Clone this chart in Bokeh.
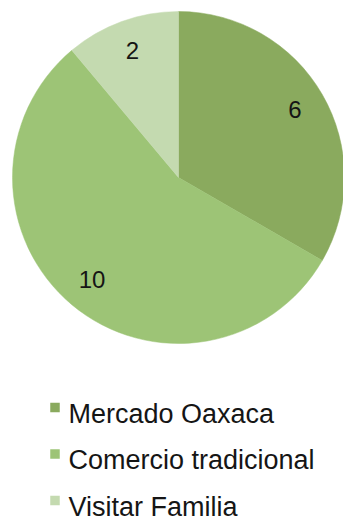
import math
from bokeh.plotting import figure
from bokeh.models import Range1d, ColumnDataSource
from bokeh.core.properties import value
from bokeh.embed import file_html
from bokeh.resources import INLINE

# ---- data ----
categories = ["Mercado Oaxaca", "Comercio tradicional", "Visitar Familia"]
values = [6, 10, 2]
colors = ["#8aaa5e", "#9dc476", "#c4dab0"]

# ---- layout constants (pixel space, y negated) ----
W, H = 343, 522
CX, CY = 178, -177
R = 166
LABEL_R = 0.81 * R
FONT = "Liberation Sans"
TXT_SHIFT = -10   # compensate baseline rendering

total = sum(values)
starts, ends, mids = [], [], []
acc = 0.0
for v in values:
    a0 = acc / total * 2 * math.pi
    acc += v
    a1 = acc / total * 2 * math.pi
    starts.append(math.pi / 2 - a0)
    ends.append(math.pi / 2 - a1)
    mids.append(math.pi / 2 - (a0 + a1) / 2)

pie = ColumnDataSource(dict(
    x=[CX] * len(values), y=[CY] * len(values),
    start=starts, end=ends, color=colors,
))
labels = ColumnDataSource(dict(
    x=[CX + LABEL_R * math.cos(m) for m in mids],
    y=[CY + LABEL_R * math.sin(m) for m in mids],
    text=[str(v) for v in values],
))

p = figure(width=W, height=H, output_backend="svg", toolbar_location=None,
           x_range=Range1d(0, W), y_range=Range1d(-H, 0),
           min_border=0, outline_line_color=None,
           background_fill_color="white", border_fill_color="white")
p.axis.visible = False
p.grid.visible = False

p.wedge(x="x", y="y", radius=R, start_angle="start", end_angle="end",
        direction="clock", fill_color="color", line_color="color",
        line_width=0.5, source=pie)

p.text(x="x", y="y", text="text", source=labels,
       text_align="center", text_baseline="alphabetic", y_offset=9 + TXT_SHIFT,
       text_font=value(FONT), text_font_size="24px", text_color="#151515")

# ---- legend ----
LEG_X_SQ = 54.5
LEG_X_TXT = 68
LEG_Y0 = -423
LEG_DY = 46.5
leg_base = [LEG_Y0 - i * LEG_DY for i in range(len(categories))]
legend = ColumnDataSource(dict(
    sx=[LEG_X_SQ] * len(categories),
    sy=[b + 16 for b in leg_base],
    tx=[LEG_X_TXT] * len(categories),
    ty=leg_base,
    text=categories,
    color=colors,
))
p.scatter(x="sx", y="sy", marker="square", size=9.5, fill_color="color",
          line_color=None, source=legend)
p.text(x="tx", y="ty", text="text", source=legend,
       text_align="left", text_baseline="alphabetic", y_offset=TXT_SHIFT,
       text_font=value(FONT), text_font_size="27px", text_color="#151515")

open("out.html", "w").write(file_html(p, INLINE))
